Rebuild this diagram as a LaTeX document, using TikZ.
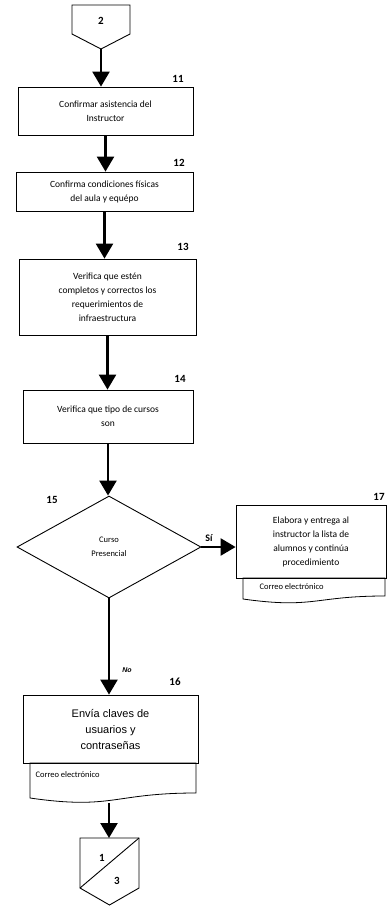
\documentclass[tikz,border=0pt]{standalone}
\usepackage{fontspec}
\setmainfont{Carlito}
\newfontfamily\arialfont{Liberation Sans}
\usetikzlibrary{arrows.meta,shapes.geometric}

\tikzset{
  proc/.style={draw, line width=0.8pt, align=center, inner sep=0pt,
    font=\fontsize{9.5}{14}\selectfont},
  num/.style={font=\bfseries\fontsize{11}{11}\selectfont},
  flecha/.style={line width=2.4pt, -{Triangle[length=15pt,width=17pt]}},
  doctext/.style={anchor=west, font=\fontsize{8.5}{10}\selectfont},
}

\begin{document}
\begin{tikzpicture}[x=1pt,y=-1pt]
  \useasboundingbox (0,0) rectangle (388,915);
  % conector de pagina (entrada)
  \draw[line width=0.9pt] (72,5) -- (130,5) -- (130,34) -- (101,49) -- (72,34) -- cycle;
  \node[num] (p2) at (101,21) {2};
  \coordinate (p2tip) at (101,49);
  % actividades
  \node[proc, minimum width=175pt, minimum height=48pt] (b11) at (105.5,111) {Confirmar asistencia del\\Instructor};
  \node[proc, minimum width=177pt, minimum height=39pt] (b12) at (104.5,191.5) {Confirma condiciones físicas\\del aula y equépo};
  \node[proc, minimum width=177pt, minimum height=76pt] (b13) at (107.5,297) {Verifica que estén\\completos y correctos los\\requerimientos de\\infraestructura};
  \node[proc, minimum width=170pt, minimum height=53pt] (b14) at (108,416.5) {Verifica que tipo de cursos\\son};
  \node[draw, diamond, line width=0.9pt, inner sep=0pt, minimum width=184pt, minimum height=102pt,
    align=center, font=\fontsize{8.5}{14}\selectfont] (d15) at (109,547) {Curso\\Presencial};
  \node[proc, minimum width=150pt, minimum height=73pt] (b17) at (311,541.5) {Elabora y entrega al\\instructor la lista de\\alumnos y continúa\\procedimiento};
  \node[proc, minimum width=175pt, minimum height=68pt, font=\arialfont\fontsize{11}{16}\selectfont] (b16) at (110.5,729) {Envía claves de\\usuarios y\\contraseñas};
  % documentos
  \draw[line width=0.8pt] (243,578) -- (385,578) -- (385,596) .. controls (314,596) and (314,609) .. (243,599) -- cycle;
  \node[doctext] (doc17) at (256,587) {Correo electrónico};
  \draw[line width=0.8pt] (30,763) -- (196,763) -- (196,793) .. controls (113,793) and (113,810) .. (30,798) -- cycle;
  \node[doctext] (doc16) at (32,775) {Correo electrónico};
  \coordinate (doc16out) at (109,803);
  % numeros
  \node[num] at (178,79) {11};
  \node[num] at (179,163) {12};
  \node[num] at (183,247) {13};
  \node[num] at (180,379) {14};
  \node[num] at (52,500) {15};
  \node[num] at (175,682) {16};
  \node[num] at (379,497) {17};
  % conector de pagina (salida)
  \draw[line width=0.9pt] (80,838) -- (139,838) -- (139,888) -- (109.5,905) -- (80,888) -- cycle;
  \draw[line width=0.9pt] (80,888) -- (139,838);
  \coordinate (p13) at (109,838);
  \node[num] (p13a) at (102,858) {1};
  \node[num] (p13b) at (117,881) {3};
  % flechas
  \draw[flecha] (p2tip) -- (p2tip |- b11.north);
  \draw[flecha] (b11.south) -- (b11.south |- b12.north);
  \draw[flecha] (b12.south) -- (b12.south |- b13.north);
  \draw[flecha] (b13.south) -- (b13.south |- b14.north);
  \draw[flecha] (b14.south) -- (b14.south |- d15.north);
  \draw[flecha] (d15.east) -- (d15.east -| b17.west);
  \node[font=\bfseries\fontsize{10}{10}\selectfont] at (209,538) {Sí};
  \draw[flecha] (d15.south) -- (d15.south |- b16.north);
  \node[font=\arialfont\itshape\bfseries\fontsize{7}{7}\selectfont] at (127,670) {No};
  \draw[flecha] (doc16out) -- (p13);
\end{tikzpicture}
\end{document}
